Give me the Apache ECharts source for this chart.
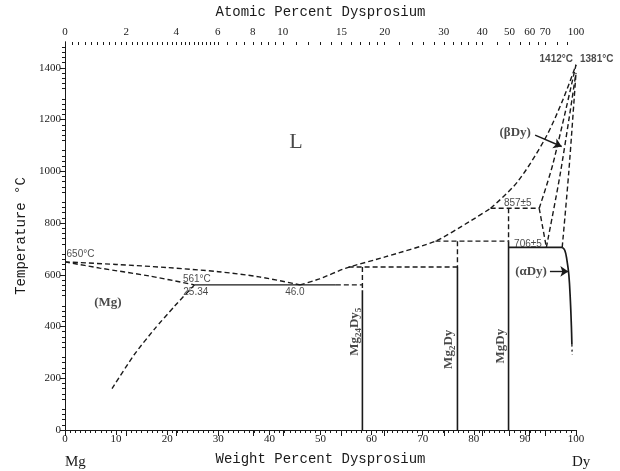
<!DOCTYPE html>
<html>
<head>
<meta charset="utf-8">
<script src="https://cdn.jsdelivr.net/npm/echarts@6/dist/echarts.min.js"></script>
<style>
  html, body { margin: 0; background: #fff; }
  #chart { width: 620px; height: 471px; }
</style>
</head>
<body>
<div id="chart"></div>
<script>
// Mg-Dy phase diagram: x = weight % Dy, y = temperature in °C
const MG = 24.305, DY = 162.5;

const atomicLabels = [0, 2, 4, 6, 8, 10, 15, 20, 30, 40, 50, 60, 70, 100];
const tempLabels = [0, 200, 400, 600, 800, 1000, 1200, 1400];

// phase boundaries, [wt% Dy, °C]
const liquidusMg = [[0, 650], [10, 640], [20, 628], [30, 612], [38, 592], [46, 561]];
const solidusMg = [[0, 650], [6.8, 626], [16.6, 595], [25.34, 561]];
const solvusMg = [[25.34, 561], [21.5, 480], [17.5, 390], [13.5, 290], [9.2, 160]];
const liquidusMid = [[46, 561], [49.8, 584], [55, 626], [62.8, 670], [72.5, 730], [79.1, 805], [83.3, 857]];
const liquidusDy = [[83.3, 857], [88.5, 958], [94, 1128], [97.5, 1280], [100, 1412]];
const solidusDy = [[92.8, 857], [95.5, 1030], [100, 1412]];
const solvusBeta = [[92.8, 857], [94.2, 706]];
const betaLow = [[94.2, 706], [97, 1000], [100, 1381]];
const alphaHigh = [[97.3, 706], [98.6, 1000], [100, 1381]];
const alphaSolvus = [[97.3, 706], [97.8, 695], [98.2, 660], [98.6, 600], [98.9, 500], [99.1, 400], [99.2, 330]];
const alphaTail = [[99.2, 330], [99.25, 290]];

// invariant reactions
const eutecticSolid = [[25.34, 561], [53, 561]];
const eutecticDash = [[53, 561], [58.2, 561]];
const peri630 = [[55.5, 630], [76.8, 630]];
const peri730 = [[72.5, 730], [86.8, 730]];
const peri857 = [[83.3, 857], [92.8, 857]];
const eutectoid706 = [[86.8, 706], [97.3, 706]];

// compounds: wt% Dy, top of dashed part, start of solid part
const compounds = [
  { name: 'Mg{s|24}Dy{s|5}', w: 58.2, top: 630, solid: 540, labelW: 56.7, labelT: 380 },
  { name: 'Mg{s|2}Dy', w: 76.8, top: 730, solid: 630, labelW: 75.1, labelT: 312 },
  { name: 'MgDy', w: 86.8, top: 857, solid: 730, labelW: 85.3, labelT: 324 }
];

// text notes: [wt%, °C, text]
const smallNotes = [[25.8, 583, '561°C'], [25.6, 534, '25.34'],
  [45, 534, '46.0'], [88.6, 877, '857±5'], [90.6, 720, '706±5']];
const phaseNotes = [[8.4, 493, '(Mg)'], [88.1, 1148, '(βDy)'], [91.2, 613, '(αDy)']];

function toWt(a) {
  return a * DY / (a * DY + (100 - a) * MG) * 100;
}
function toAt(w) {
  const d = w / DY, m = (100 - w) / MG;
  return d / (d + m) * 100;
}

// minor ticks on the atomic scale
const atomicMinor = [];
[[0, 6, 0.2], [6, 10, 0.5], [10, 20, 1], [20, 40, 2], [40, 70, 5], [70, 100, 10]].forEach(function (r) {
  for (let a = r[0]; a < r[1] - 1e-9; a += r[2]) atomicMinor.push(toWt(a));
});

const ink = '#1a1a1a';
function line(data, dashed, extra) {
  return Object.assign({
    type: 'line', data: data, symbol: 'none', silent: true, animation: false,
    lineStyle: { color: ink, width: 1.4, type: dashed ? [5, 3] : 'solid' }
  }, extra || {});
}

const series = [
  line(liquidusMg, true, { smooth: 0.3 }),
  line(solidusMg, true, { smooth: 0.3 }),
  line(solvusMg, true, { smooth: 0.2 }),
  line(liquidusMid, true, { smooth: 0.2 }),
  line(liquidusDy, true, { smooth: 0.3 }),
  line(solidusDy, true, { smooth: 0.3 }),
  line(solvusBeta, true),
  line(betaLow, true, { smooth: 0.3 }),
  line(alphaHigh, true, { smooth: 0.3 }),
  line(alphaSolvus, false, { smooth: 0.4, lineStyle: { color: ink, width: 1.7 } }),
  line(alphaTail, true, { lineStyle: { color: ink, width: 1.3, type: [2, 3] } }),
  line(eutecticSolid, false),
  line(eutecticDash, true),
  line(peri630, true),
  line(peri730, true),
  line(peri857, true),
  line(eutectoid706, false, { lineStyle: { color: ink, width: 1.7 } })
];

compounds.forEach(function (c) {
  series.push(line([[c.w, c.top], [c.w, c.solid]], true));
  series.push(line([[c.w, c.solid], [c.w, 0]], false, { lineStyle: { color: ink, width: 1.6 } }));
});

// arrows
series.push({
  type: 'line', data: [], silent: true, animation: false,
  markLine: {
    silent: true, animation: false, symbol: ['none', 'arrow'], symbolSize: 8,
    lineStyle: { color: ink, width: 1.4, type: 'solid' }, label: { show: false },
    data: [
      [{ coord: [92.0, 1140] }, { coord: [97.2, 1096] }],
      [{ coord: [94.9, 613] }, { coord: [98.5, 613] }]
    ]
  }
});

function notes(data, label) {
  return {
    type: 'scatter', symbolSize: 0, silent: true, animation: false, clip: false,
    data: data.map(function (n) { return { value: [n[0], n[1]], name: n[2] }; }),
    label: Object.assign({ show: true, position: 'inside', formatter: '{b}', color: ink }, label)
  };
}

series.push(notes([[45.2, 1114, 'L']], { fontFamily: 'Liberation Serif', fontSize: 22 }));
series.push(notes(phaseNotes, { fontFamily: 'Liberation Serif', fontSize: 13, fontWeight: 'bold' }));
series.push(notes(smallNotes, { fontFamily: 'Liberation Sans', fontSize: 10 }));
series.push(notes([[0.3, 678, '650°C']], { fontFamily: 'Liberation Sans', fontSize: 10, position: 'right', distance: 0 }));
series.push(notes([[100, 1432, '1412°C']], { fontFamily: 'Liberation Sans', fontSize: 10, position: 'left', distance: 3, fontWeight: 'bold' }));
series.push(notes([[100, 1432, '1381°C']], { fontFamily: 'Liberation Sans', fontSize: 10, position: 'right', distance: 4, fontWeight: 'bold' }));
series.push({
  type: 'scatter', symbolSize: 0, silent: true, animation: false,
  data: compounds.map(function (c) { return { value: [c.labelW, c.labelT], name: c.name }; }),
  label: {
    show: true, position: 'inside', rotate: 90, formatter: '{b}', color: ink,
    fontFamily: 'Liberation Serif', fontSize: 13, fontWeight: 'bold',
    rich: { s: { fontFamily: 'Liberation Serif', fontSize: 9, fontWeight: 'bold', padding: [7, 0, 0, 0] } }
  }
});

const tickFont = { fontFamily: 'Liberation Serif', fontSize: 11, color: ink };
const titleFont = { fontFamily: 'Liberation Mono', fontSize: 14, color: ink };
const axisLine = { show: true, lineStyle: { color: ink, width: 1 } };
const plain = function (v) { return String(v); };

const option = {
  backgroundColor: '#fff',
  animation: false,
  grid: { left: 65, right: 44, top: 38, bottom: 33 },
  xAxis: [
    {
      type: 'value', min: 0, max: 100, interval: 10, position: 'bottom',
      name: 'Weight Percent Dysprosium', nameLocation: 'middle', nameGap: 22, nameTextStyle: titleFont,
      axisLine: axisLine, splitLine: { show: false },
      axisTick: { inside: false, length: 5, lineStyle: { color: ink } },
      minorTick: { show: true, splitNumber: 10, length: 3, lineStyle: { color: ink } },
      axisLabel: Object.assign({ margin: 4, formatter: plain }, tickFont)
    },
    {
      type: 'value', min: 0, max: 100, position: 'top',
      name: 'Atomic Percent Dysprosium', nameLocation: 'middle', nameGap: 23, nameTextStyle: titleFont,
      axisLine: axisLine, splitLine: { show: false },
      axisTick: { inside: true, length: 6, customValues: atomicLabels.map(toWt), lineStyle: { color: ink } },
      axisLabel: Object.assign({
        margin: 4, customValues: atomicLabels.map(toWt),
        formatter: function (v) { return String(Math.round(toAt(v))); }
      }, tickFont)
    },
    {
      type: 'value', min: 0, max: 100, position: 'top',
      axisLine: { show: false }, splitLine: { show: false }, axisLabel: { show: false },
      axisTick: { inside: true, length: 3, customValues: atomicMinor, lineStyle: { color: ink } }
    }
  ],
  yAxis: [
    {
      type: 'value', min: 0, max: 1500, interval: 100, position: 'left',
      name: 'Temperature °C', nameLocation: 'middle', nameGap: 33, nameRotate: 90, nameTextStyle: titleFont,
      axisLine: axisLine, splitLine: { show: false },
      axisTick: { inside: false, length: 5, customValues: tempLabels, lineStyle: { color: ink } },
      minorTick: { show: true, splitNumber: 5, length: 3, lineStyle: { color: ink } },
      axisLabel: Object.assign({ margin: 4, customValues: tempLabels, formatter: plain }, tickFont)
    },
    {
      type: 'value', min: 0, max: 1500, interval: 100, position: 'right',
      axisLine: axisLine, splitLine: { show: false }, axisLabel: { show: false },
      axisTick: { inside: true, length: 5, customValues: tempLabels, lineStyle: { color: ink } },
      minorTick: { show: true, splitNumber: 5, length: 3, lineStyle: { color: ink } }
    }
  ],
  graphic: [
    { type: 'text', left: 65, top: 455, style: { text: 'Mg', font: '15px "Liberation Serif"', fill: ink } },
    { type: 'text', left: 572, top: 455, style: { text: 'Dy', font: '15px "Liberation Serif"', fill: ink } }
  ],
  series: series
};

const chart = echarts.init(document.getElementById('chart'), null, { renderer: 'canvas' });
chart.setOption(option);
</script>
</body>
</html>
